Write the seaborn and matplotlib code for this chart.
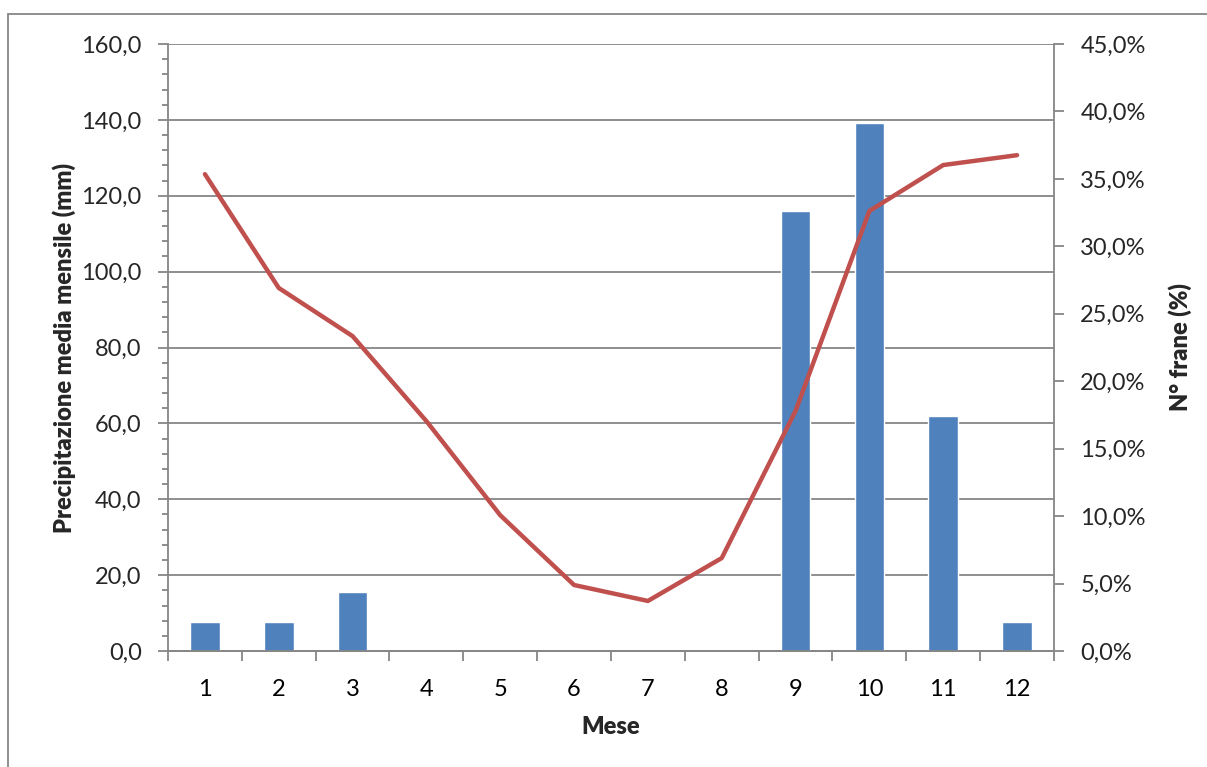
import matplotlib
matplotlib.use("Agg")
import matplotlib.pyplot as plt
import matplotlib.patches as mpatches
from matplotlib.lines import Line2D
from matplotlib.ticker import FuncFormatter, MultipleLocator, FixedLocator
import seaborn as sns
import numpy as np
import pandas as pd

# dati
mesi = ["1", "2", "3", "4", "5", "6", "7", "8", "9", "10", "11", "12"]
precipitazione = [125.7, 95.7, 83.0, 60.6, 35.8, 17.4, 13.2, 24.5, 63.3, 116.0, 128.1, 130.7]
frane_pct = [2.17, 2.17, 4.35, 0.0, 0.0, 0.0, 0.0, 0.0, 32.61, 39.13, 17.39, 2.17]

BLU = "#4F81BD"
ROSSO = "#C0504D"
GRIGIO = "#868686"

sns.set_theme(style="white")
plt.rcParams["font.family"] = ["Lato", "DejaVu Sans"]

df = pd.DataFrame({"mese": mesi, "prec": precipitazione, "frane": frane_pct})
df["pos"] = np.arange(len(df))

fig = plt.figure(figsize=(12.07, 7.67), dpi=100)
ax = fig.add_axes([0.1392, 0.1512, 0.7340, 0.7914])
ax2 = ax.twinx()

# barre (asse destro) sotto la linea (asse sinistro)
ax2.set_zorder(1)
ax.set_zorder(2)
ax.patch.set_visible(False)

sns.barplot(data=df, x="pos", y="frane", color=BLU, width=0.4, ax=ax2,
            saturation=1, native_scale=True, zorder=3)
sns.lineplot(data=df, x="pos", y="prec", color=ROSSO, linewidth=3.2, ax=ax,
             solid_capstyle="round", solid_joinstyle="round")

ax.set_xlim(-0.5, 11.5)
ax.set_ylim(0, 160)
ax2.set_ylim(0, 45)

# griglia orizzontale sui valori dell'asse sinistro, dietro le barre
for v in np.arange(20, 161, 20):
    ax2.add_line(Line2D([0, 1], [v, v], transform=ax.get_yaxis_transform(),
                        color=GRIGIO, linewidth=1.3, zorder=0))

fmt_mm = FuncFormatter(lambda v, p: f"{v:.1f}".replace(".", ","))
fmt_pct = FuncFormatter(lambda v, p: f"{v:.1f}%".replace(".", ","))

ax.yaxis.set_major_locator(MultipleLocator(20))
ax.yaxis.set_minor_locator(MultipleLocator(4))
ax.yaxis.set_major_formatter(fmt_mm)
ax2.yaxis.set_major_locator(MultipleLocator(5))
ax2.yaxis.set_major_formatter(fmt_pct)

# tacche x ai bordi delle categorie, etichette al centro
ax.xaxis.set_major_locator(FixedLocator(np.arange(-0.5, 12, 1)))
ax.xaxis.set_major_formatter(FuncFormatter(lambda v, p: ""))
ax.xaxis.set_minor_locator(FixedLocator(df["pos"]))
ax.set_xticklabels(mesi, minor=True)
ax2.tick_params(axis="x", which="both", bottom=False, labelbottom=False)

ax.tick_params(axis="x", which="major", direction="out", length=7, width=1.3,
               color=GRIGIO, bottom=True)
ax.tick_params(axis="x", which="minor", length=0, pad=20, labelsize=17, labelcolor="black")
ax.tick_params(axis="y", which="major", direction="out", length=7, width=1.3,
               color=GRIGIO, left=True, labelsize=17, pad=12)
ax.tick_params(axis="y", which="minor", direction="out", length=4, width=1.3,
               color=GRIGIO, left=True)
ax2.tick_params(axis="y", which="major", direction="out", length=7, width=1.3,
                color=GRIGIO, right=True, labelsize=17, pad=12)

for a in (ax, ax2):
    for s in a.spines.values():
        s.set_color(GRIGIO)
        s.set_linewidth(1.3)
    a.spines["top"].set_visible(False)
ax.spines["right"].set_visible(False)
ax2.spines["left"].set_visible(False)

ax.set_xlabel("Mese", fontsize=17, fontweight="heavy", labelpad=12)
ax.set_ylabel("Precipitazione media mensile (mm)", fontsize=17, fontweight="heavy", labelpad=4)
ax2.set_ylabel("N° frane (%)", fontsize=17, fontweight="heavy", labelpad=16)

# cornice esterna del grafico
fig.patches.append(mpatches.Rectangle((8 / 1207, -0.05), 1.1, 1 - 14 / 767 + 0.05,
                                      transform=fig.transFigure, fill=False,
                                      edgecolor=GRIGIO, linewidth=1.3))

fig.savefig("out.png", dpi=100, facecolor="white")
